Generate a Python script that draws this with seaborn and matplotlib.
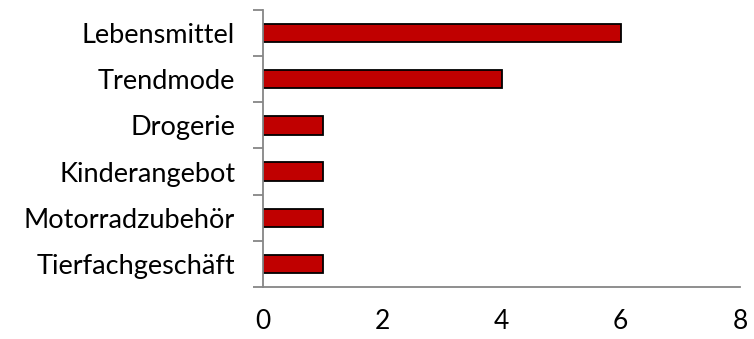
import matplotlib
matplotlib.use("Agg")
import matplotlib.pyplot as plt
import seaborn as sns
import pandas as pd
from matplotlib.ticker import FixedLocator

categories = ["Lebensmittel", "Trendmode", "Drogerie", "Kinderangebot",
              "Motorradzubehör", "Tierfachgeschäft"]
values = [6, 4, 1, 1, 1, 1]
x_ticks = [0, 2, 4, 6, 8]

sns.set_style("white")
plt.rcParams["font.family"] = ["Lato", "DejaVu Sans"]

df = pd.DataFrame({"Branche": categories, "Anzahl": values})

fig = plt.figure(figsize=(7.54, 3.39), dpi=100)
ax = fig.add_axes([263 / 754, 1 - 287 / 339, (740 - 263) / 754, (287 - 10) / 339])

sns.barplot(data=df, x="Anzahl", y="Branche", orient="h", color="#C00000",
            saturation=1, width=0.4, edgecolor="black", linewidth=1.3, ax=ax)

axis_grey = "#868686"
ax.set_xlim(0, 8)
ax.set_ylim(len(categories) - 0.5, -0.5)
ax.set_xlabel("")
ax.set_ylabel("")

for side in ("top", "right"):
    ax.spines[side].set_visible(False)
for side in ("left", "bottom"):
    ax.spines[side].set_color(axis_grey)
    ax.spines[side].set_linewidth(1.3)

ax.set_xticks(x_ticks)
ax.set_xticklabels([str(t) for t in x_ticks])
ax.tick_params(axis="x", direction="in", length=7, width=1.3, color=axis_grey,
               pad=16, labelsize=19, labelcolor="black")

ax.set_yticks(range(len(categories)))
ax.set_yticklabels(categories)
ax.tick_params(axis="y", which="major", length=0, pad=20, labelsize=19.5,
               labelcolor="black")
ax.yaxis.set_minor_locator(FixedLocator([i - 0.5 for i in range(len(categories) + 1)]))
ax.tick_params(axis="y", which="minor", direction="out", length=7, width=1.3,
               color=axis_grey, left=True)

fig.savefig("out.png", dpi=100)
